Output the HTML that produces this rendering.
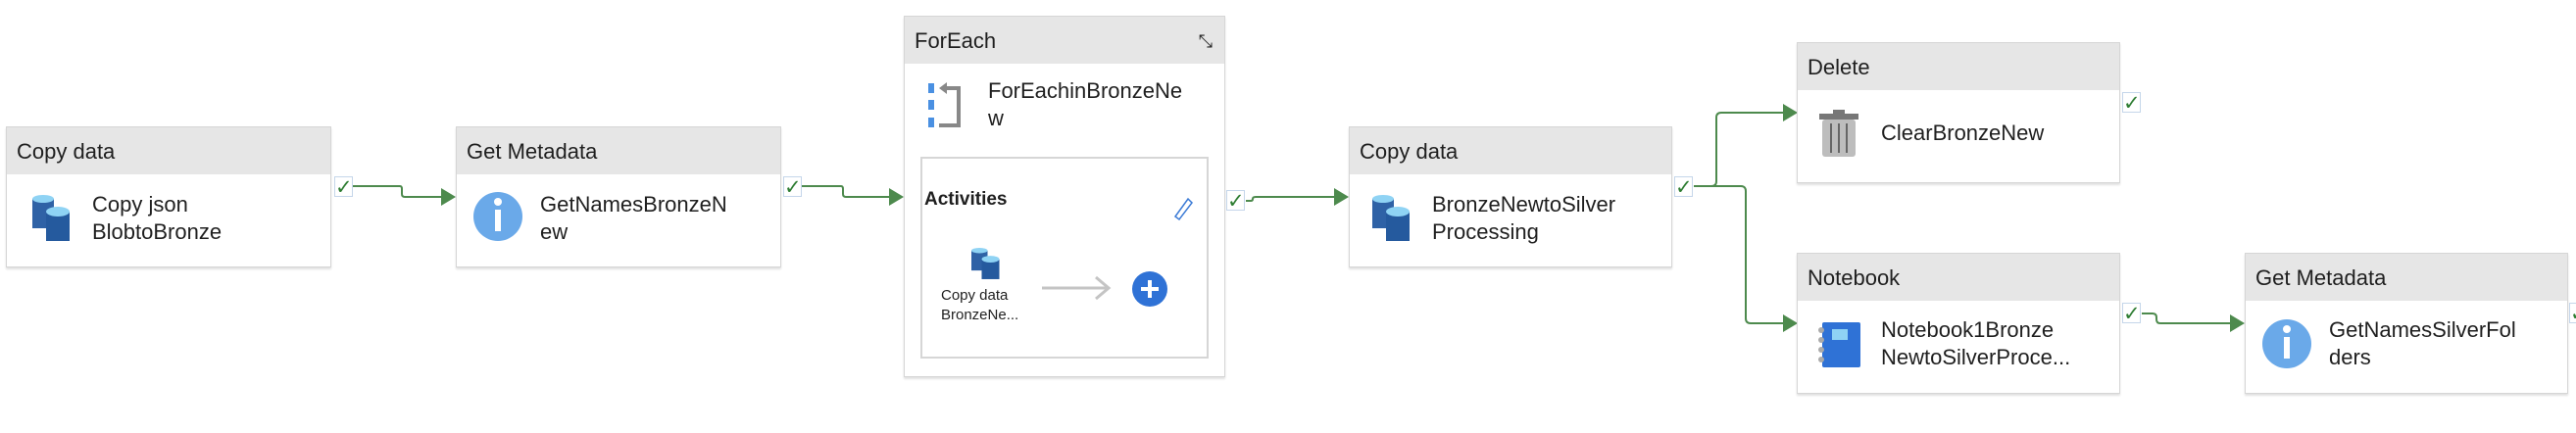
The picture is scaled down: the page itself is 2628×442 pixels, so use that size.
<!DOCTYPE html>
<html><head><meta charset="utf-8"><style>
body{margin:0;width:2628px;height:442px;background:#fff;position:relative;overflow:hidden;font-family:"Liberation Sans",sans-serif;color:#1f1f1f}
.box{position:absolute;background:#fff;border:1px solid #d6d6d6;box-shadow:0 2px 2px rgba(0,0,0,.12);box-sizing:border-box}
.hd{background:#e6e6e6;height:48px;font-size:22px;line-height:50px;padding-left:10px}
.t{position:absolute;font-size:22px;line-height:28px}
.chk{position:absolute;width:19px;height:21px;border:1px solid #c5d6ea;background:#fff;box-sizing:border-box;color:#2e7d32;font-size:21px;line-height:20px;text-align:center;font-weight:bold;font-family:"DejaVu Sans",sans-serif}
svg{position:absolute;left:0;top:0}
</style></head><body>
<svg width="2628" height="442">
<g fill="none" stroke="#4d8a4d" stroke-width="2">
<path d="M360 190 H408 Q410 190 410 193 V198 Q410 201 413 201 H452"/>
<path d="M818 190 H858 Q860 190 860 193 V198 Q860 201 863 201 H908"/>
<path d="M1271 205 H1276 Q1278 205 1278 203 V203 Q1278 201 1281 201 H1362"/>
<path d="M1728 190 H1746 Q1751 190 1751 185 V120 Q1751 115 1756 115 H1821"/>
<path d="M1728 190 H1776 Q1781 190 1781 195 V325 Q1781 330 1786 330 H1821"/>
<path d="M2185 320 H2196 Q2200 320 2200 324 V326 Q2200 330 2204 330 H2277"/>
</g>
<g fill="#4d8a4d">
<path d="M450 192 L465 201 L450 210Z"/><path d="M907 192 L922 201 L907 210Z"/>
<path d="M1361 192 L1376 201 L1361 210Z"/><path d="M1819 106 L1834 115 L1819 124Z"/>
<path d="M1819 321 L1834 330 L1819 339Z"/><path d="M2275 321 L2290 330 L2275 339Z"/>
</g>
</svg>

<div class="box" style="left:6px;top:129px;width:332px;height:144px"><div class="hd">Copy data</div></div>
<div class="box" style="left:465px;top:129px;width:332px;height:144px"><div class="hd">Get Metadata</div></div>
<div class="box" style="left:922px;top:16px;width:328px;height:369px"><div class="hd">ForEach<span style="position:absolute;right:12px;top:0;font-size:18px">⤡</span></div></div>
<div class="box" style="left:939px;top:160px;width:294px;height:206px;box-shadow:none;border:2px solid #d6d6d6"></div>
<div class="box" style="left:1376px;top:129px;width:330px;height:144px"><div class="hd">Copy data</div></div>
<div class="box" style="left:1833px;top:43px;width:330px;height:144px"><div class="hd">Delete</div></div>
<div class="box" style="left:1833px;top:258px;width:330px;height:144px"><div class="hd">Notebook</div></div>
<div class="box" style="left:2290px;top:258px;width:330px;height:144px"><div class="hd">Get Metadata</div></div>

<div class="chk" style="left:341px;top:180px">✓</div>
<div class="chk" style="left:799px;top:180px">✓</div>
<div class="chk" style="left:1251px;top:194px">✓</div>
<div class="chk" style="left:1708px;top:180px">✓</div>
<div class="chk" style="left:2165px;top:94px">✓</div>
<div class="chk" style="left:2165px;top:309px">✓</div>
<div class="chk" style="left:2621px;top:309px">✓</div>

<svg width="2628" height="442">
<defs><g id="db">
<rect x="0" y="4" width="22" height="30" fill="#2f62a6"/><ellipse cx="11" cy="4" rx="11" ry="4" fill="#8fd3f4"/>
<rect x="14" y="17" width="24" height="30" fill="#255a9e"/><ellipse cx="26" cy="17" rx="12" ry="5" fill="#8fd3f4"/>
</g></defs>
<use href="#db" x="33" y="199"/><use href="#db" x="1400" y="199"/>
<g transform="translate(991 253) scale(0.75 0.68)"><use href="#db"/></g>
<ellipse cx="508" cy="221" rx="25" ry="25" fill="#6aa9e9"/><rect x="505" y="214" width="6" height="22" fill="#fff"/><circle cx="508" cy="206" r="4" fill="#fff"/>
<ellipse cx="2333" cy="351" rx="25" ry="25" fill="#6aa9e9"/><rect x="2330" y="344" width="6" height="22" fill="#fff"/><circle cx="2333" cy="336" r="4" fill="#fff"/>
<rect x="947" y="85" width="6" height="10" fill="#4a90e2"/><rect x="947" y="102" width="6" height="10" fill="#4a90e2"/><rect x="947" y="120" width="6" height="10" fill="#4a90e2"/>
<path d="M963 90 H978 V128 H958" fill="none" stroke="#888" stroke-width="4"/><path d="M958 90 L966 84 L966 96Z" fill="#888"/>
<path d="M1199 221 L1212 203 L1216 207 L1203 224Z" fill="none" stroke="#3c7bd6" stroke-width="1.5"/>
<path d="M1063 294 H1130 M1118 283 L1131 294 L1118 305" fill="none" stroke="#c4c4c4" stroke-width="3"/>
<circle cx="1173" cy="295" r="18" fill="#2f72d6"/><path d="M1173 286 V304 M1164 295 H1182" stroke="#fff" stroke-width="4"/>
<rect x="1856" y="116" width="40" height="6" fill="#777"/><rect x="1870" y="112" width="12" height="5" fill="#777"/>
<rect x="1859" y="122" width="34" height="38" rx="3" fill="#bdbdbd"/>
<path d="M1868 126 V156 M1876 126 V156 M1884 126 V156" stroke="#666" stroke-width="2"/>
<rect x="1859" y="329" width="39" height="46" rx="2" fill="#2f72d6"/><rect x="1869" y="336" width="16" height="11" fill="#8fd3f4"/>
<circle cx="1858" cy="337" r="3" fill="#aaa"/><circle cx="1858" cy="347" r="3" fill="#aaa"/><circle cx="1858" cy="357" r="3" fill="#aaa"/><circle cx="1858" cy="367" r="3" fill="#aaa"/>
</svg>

<div class="t" style="left:94px;top:195px">Copy json<br>BlobtoBronze</div>
<div class="t" style="left:551px;top:195px">GetNamesBronzeN<br>ew</div>
<div class="t" style="left:1008px;top:79px">ForEachinBronzeNe<br>w</div>
<div class="t" style="left:943px;top:190px;font-weight:bold;font-size:19px">Activities</div>
<div class="t" style="left:960px;top:292px;font-size:15px;line-height:20px">Copy data<br>BronzeNe...</div>
<div class="t" style="left:1461px;top:195px">BronzeNewtoSilver<br>Processing</div>
<div class="t" style="left:1919px;top:122px">ClearBronzeNew</div>
<div class="t" style="left:1919px;top:323px">Notebook1Bronze<br>NewtoSilverProce...</div>
<div class="t" style="left:2376px;top:323px">GetNamesSilverFol<br>ders</div>
</body></html>
